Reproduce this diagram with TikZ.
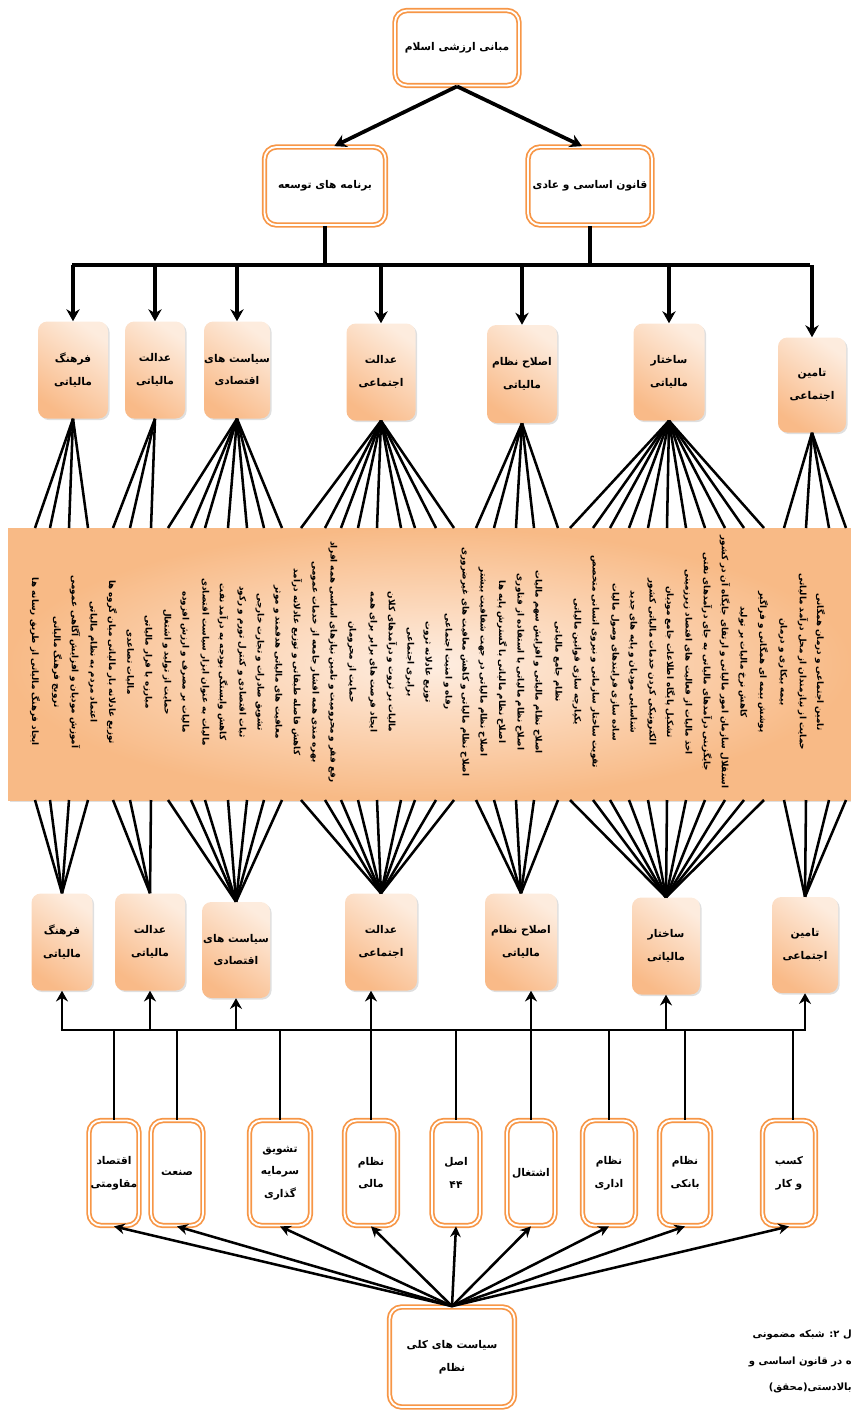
\documentclass[tikz,border=0pt]{standalone}
\usepackage{fontspec}
\usetikzlibrary{arrows.meta,shadows,calc}
\TeXXeTstate=1
\newfontfamily\arfont[Script=Arabic]{DejaVu Sans}
\newcommand{\fa}[1]{{\arfont\bfseries\beginR #1\endR}}
\definecolor{borange}{RGB}{247,150,70}
\definecolor{peachD}{RGB}{249,186,136}
\definecolor{peachL}{RGB}{253,236,222}
\definecolor{bandD}{RGB}{248,186,134}
\definecolor{bandL}{RGB}{254,238,226}
\begin{document}
\begin{tikzpicture}[x=0.75pt,y=-0.75pt,
  dbox/.style 2 args={draw=borange, double=white, line width=1.3pt, double distance=1.4pt,
    rounded corners=9pt, fill=white, minimum width=#1*0.75pt, minimum height=#2*0.75pt,
    align=center, font=\fontsize{8}{17}\selectfont, inner sep=0pt},
  pbox/.style 2 args={rounded corners=7pt, top color=peachL, bottom color=peachD, shading angle=-35,
    drop shadow={opacity=0.25,shadow xshift=1.2pt,shadow yshift=-1.2pt},
    minimum width=#1*0.75pt, minimum height=#2*0.75pt,
    align=center, font=\fontsize{8}{17}\selectfont, inner sep=0pt},
  conn/.style={line width=2.8pt},
  arr/.style={line width=2.8pt, -{Stealth[length=9pt,width=10pt]}},
  arrb/.style={line width=2.2pt, -{Stealth[length=8pt,width=9pt]}},
  fan/.style={line width=1.9pt},
  arrd/.style={line width=1.9pt, -{Stealth[length=8pt,width=8pt]}},
  coltext/.style={rotate=-90, font=\fontsize{6.6}{7}\selectfont, inner sep=0pt},
  captext/.style={anchor=east, font=\fontsize{7.5}{8}\selectfont, inner sep=0pt}
]
\useasboundingbox (0,0) rectangle (850,1413);

% ---------- top levels ----------
\node[dbox={124}{75}] (top) at (457,48) {\fa{مبانی ارزشی اسلام}};
\node[dbox={121}{78}] (dev) at (325,186) {\fa{برنامه های توسعه}};
\node[dbox={124}{78}] (law) at (590,186) {\fa{قانون اساسی و عادی}};

\draw[arr] (top.south) -- ([xshift=7pt]dev.north);
\draw[arr] (top.south) -- ([xshift=-6pt]law.north);

\coordinate (busA) at (74,265);
\coordinate (busB) at (808,265);
\draw[conn] ([xshift=-1.4pt]busA) -- ([xshift=1.4pt]busB);
\draw[conn] (dev.south) -- (dev.south |- busA);
\draw[conn] (law.south) -- (law.south |- busA);

% ---------- upper theme boxes ----------
\node[pbox={70}{97}] (A1) at (73,370) {\fa{فرهنگ}\\\fa{مالیاتی}};
\node[pbox={60}{97}] (A2) at (155,370) {\fa{عدالت}\\\fa{مالیاتی}};
\node[pbox={66}{97}] (A3) at (237,370) {\fa{سیاست های}\\\fa{اقتصادی}};
\node[pbox={69}{97}] (A4) at (381,372) {\fa{عدالت}\\\fa{اجتماعی}};
\node[pbox={70}{98}] (A5) at (522,374) {\fa{اصلاح نظام}\\\fa{مالیاتی}};
\node[pbox={71}{97}] (A6) at (669,372) {\fa{ساختار}\\\fa{مالیاتی}};
\node[pbox={68}{95}] (A7) at (812,385) {\fa{تامین}\\\fa{اجتماعی}};

\foreach \n in {A1,A2,A3,A4,A5,A6,A7}
  \draw[arr] (\n.north |- busA) -- (\n.north);

% ---------- band ----------
\node[minimum width=633pt, minimum height=204pt, inner sep=0pt,
  inner color=bandL, outer color=bandD,
  drop shadow={opacity=0.25,shadow xshift=1.5pt,shadow yshift=-1.5pt}] (band) at (430,664) {};

% fan end points
\foreach \i/\x in {1/35,2/50,3/69,4/88,5/113,6/130,7/151,8/168,9/191,10/205,11/228,12/247,13/264,14/282,
  15/301,16/325,17/341,18/358,19/377,20/401,21/415,22/436,23/454,24/476,25/494,26/516,27/534,28/558,
  29/570,30/593,31/610,32/629,33/648,34/667,35/686,36/705,37/725,38/744,39/764,40/784,41/806,42/829,43/846}
{
  \coordinate (t\i) at (\x,528);
  \coordinate (b\i) at (\x,800);
}

% band texts
\foreach \i/\x/\t in {
 1/35/{ایجاد فرهنگ مالیاتی از طریق رسانه ها},
 2/57/{ترویج فرهنگ مالیاتی},
 3/75/{آموزش مودیان و افزایش آگاهی عمومی},
 4/93/{اعتماد مردم به نظام مالیاتی},
 5/112/{توزیع عادلانه بار مالیاتی میان گروه ها},
 6/130/{مالیات تصاعدی},
 7/148/{مبارزه با فرار مالیاتی},
 8/167/{حمایت از تولید و اشتغال},
 9/185/{مالیات بر مصرف و ارزش افزوده},
 10/205/{مالیات به عنوان ابزار سیاست اقتصادی},
 11/223/{کاهش وابستگی بودجه به درآمد نفت},
 12/242/{ثبات اقتصادی و کنترل تورم و رکود},
 13/260/{تشویق صادرات و تجارت خارجی},
 14/278/{معافیت های مالیاتی هدفمند و موثر},
 15/297/{کاهش فاصله طبقاتی و توزیع عادلانه درآمد},
 16/315/{بهره مندی همه اقشار جامعه از خدمات عمومی},
 17/333/{رفع فقر و محرومیت و تامین نیازهای اساسی همه افراد},
 18/352/{حمایت از محرومان},
 19/373/{ایجاد فرصت های برابر برای همه},
 20/392/{مالیات بر ثروت و درآمدهای کلان},
 21/410/{برابری اجتماعی},
 22/428/{توزیع عادلانه ثروت},
 23/448/{رفاه و امنیت اجتماعی},
 24/465/{اصلاح نظام مالیاتی و کاهش معافیت های غیرضروری},
 25/483/{اصلاح نظام مالیاتی در جهت شفافیت بیشتر},
 26/502/{اصلاح نظام مالیاتی با گسترش پایه ها},
 27/520/{اصلاح نظام مالیاتی با استفاده از فناوری},
 28/538/{اصلاح نظام مالیاتی و افزایش سهم مالیات},
 29/558/{نظام جامع مالیاتی},
 30/577/{یکپارچه سازی قوانین مالیاتی},
 31/595/{تقویت ساختار سازمانی و نیروی انسانی متخصص},
 32/615/{ساده سازی فرایندهای وصول مالیات},
 33/633/{شناسایی مودیان و پایه های جدید},
 34/652/{الکترونیکی کردن خدمات مالیاتی کشور},
 35/670/{تشکیل پایگاه اطلاعات جامع مودیان},
 36/688/{اخذ مالیات از فعالیت های اقتصاد زیرزمینی},
 37/707/{جایگزینی درآمدهای مالیاتی به جای درآمدهای نفتی},
 38/725/{استقلال سازمان امور مالیاتی و ارتقای جایگاه آن در کشور},
 39/743/{کاهش نرخ مالیات بر تولید},
 40/763/{پوشش بیمه ای همگانی و فراگیر},
 41/783/{بیمه بیکاری و درمان},
 42/803/{حمایت از نیازمندان از محل درآمد مالیاتی},
 43/820/{تامین اجتماعی و درمان همگانی}}
  \node[coltext] (c\i) at (\x,662) {\fa{\t}};

% upper fans
\foreach \i in {1,...,4}   \draw[fan] (A1.south) -- (t\i);
\foreach \i in {5,6,7}     \draw[fan] (A2.south) -- (t\i);
\foreach \i in {8,...,14}  \draw[fan] (A3.south) -- (t\i);
\foreach \i in {15,...,23} \draw[fan] (A4.south) -- (t\i);
\foreach \i in {24,...,28} \draw[fan] (A5.south) -- (t\i);
\foreach \i in {29,...,39} \draw[fan] (A6.south) -- (t\i);
\foreach \i in {40,...,43} \draw[fan] (A7.south) -- (t\i);

% ---------- lower theme boxes ----------
\node[pbox={61}{97}] (B1) at (62,942) {\fa{فرهنگ}\\\fa{مالیاتی}};
\node[pbox={70}{97}] (B2) at (150,942) {\fa{عدالت}\\\fa{مالیاتی}};
\node[pbox={68}{96}] (B3) at (236,950) {\fa{سیاست های}\\\fa{اقتصادی}};
\node[pbox={72}{97}] (B4) at (381,942) {\fa{عدالت}\\\fa{اجتماعی}};
\node[pbox={72}{97}] (B5) at (521,942) {\fa{اصلاح نظام}\\\fa{مالیاتی}};
\node[pbox={68}{97}] (B6) at (666,946) {\fa{ساختار}\\\fa{مالیاتی}};
\node[pbox={66}{96}] (B7) at (805,945) {\fa{تامین}\\\fa{اجتماعی}};

% lower fans
\foreach \i in {1,...,4}   \draw[fan] (b\i) -- (B1.north);
\foreach \i in {5,6,7}     \draw[fan] (b\i) -- (B2.north);
\foreach \i in {8,...,14}  \draw[fan] (b\i) -- (B3.north);
\foreach \i in {15,...,23} \draw[fan] (b\i) -- (B4.north);
\foreach \i in {24,...,28} \draw[fan] (b\i) -- (B5.north);
\foreach \i in {29,...,39} \draw[fan] (b\i) -- (B6.north);
\foreach \i in {40,...,43} \draw[fan] (b\i) -- (B7.north);

% ---------- bottom row ----------
\node[dbox={50}{105}] (C1) at (114,1173) {\fa{اقتصاد}\\\fa{مقاومتی}};
\node[dbox={52}{105}] (C2) at (177,1173) {\fa{صنعت}};
\node[dbox={61}{105}] (C3) at (280,1173) {\fa{تشویق}\\\fa{سرمایه}\\\fa{گذاری}};
\node[dbox={53}{105}] (C4) at (371,1173) {\fa{نظام}\\\fa{مالی}};
\node[dbox={48}{105}] (C5) at (456,1173) {\fa{اصل}\\\fa{۴۴}};
\node[dbox={48}{105}] (C6) at (531,1173) {\fa{اشتغال}};
\node[dbox={53}{105}] (C7) at (609,1173) {\fa{نظام}\\\fa{اداری}};
\node[dbox={51}{105}] (C8) at (685,1173) {\fa{نظام}\\\fa{بانکی}};
\node[dbox={53}{105}] (C9) at (789,1173) {\fa{کسب}\\\fa{و کار}};

\coordinate (busL) at (62,1030);
\coordinate (busR) at (805,1030);
\draw[line width=2.2pt] ([xshift=-1.1pt]busL) -- ([xshift=1.1pt]busR);

\foreach \n in {C1,C2,C3,C5,C7,C8}
  \draw[line width=2.2pt] (\n.north) -- (\n.north |- busL);
\draw[line width=2.2pt] ([xshift=3pt]C9.north) -- ([xshift=3pt]C9.north |- busL);
\draw[arrb] (C4.north) -- (C4.north |- B4.south);
\draw[arrb] (C6.north) -- (C6.north |- B5.south);
\foreach \n in {B1,B2,B3,B6,B7}
  \draw[arrb] (\n.south |- busL) -- (\n.south);

% ---------- bottom source ----------
\node[dbox={125}{100}] (D) at (452,1357) {\fa{سیاست های کلی}\\\fa{نظام}};
\foreach \n in {C1,C2,C3,C4,C5,C6,C7,C8,C9}
  \draw[arrd] (D.north) -- (\n.south);

% ---------- caption (cut by the page edge) ----------
\node[captext] (cap1) at (852,1335) {\fa{ل ۲: شبکه مضمونی}};
\node[captext] (cap2) at (852,1362) {\fa{ه در قانون اساسی و}};
\node[captext] (cap3) at (852,1388) {\fa{بالادستی(محقق)}};
\end{tikzpicture}
\end{document}
